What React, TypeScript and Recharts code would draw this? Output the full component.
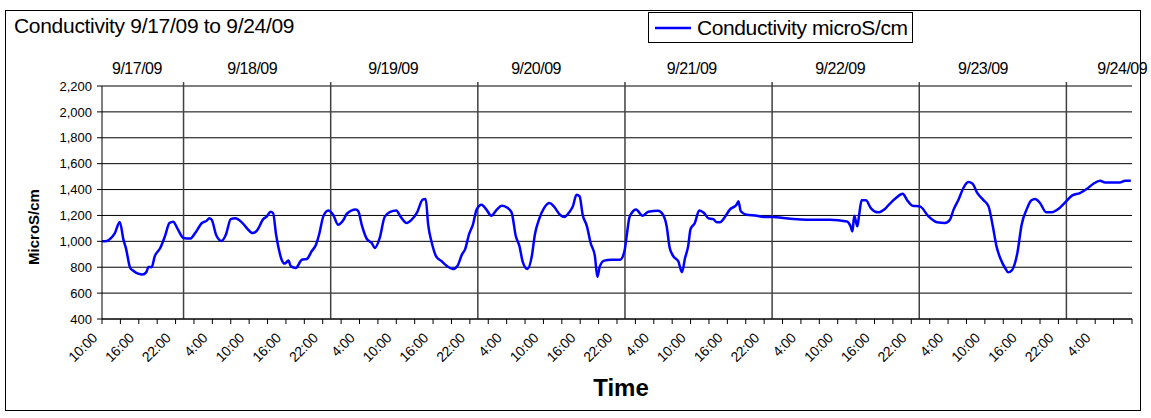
import { LineChart, Line, XAxis, YAxis, CartesianGrid, ReferenceLine, Legend } from "recharts";

// hours elapsed since 9/17/09 10:00
const hours = [
  0, 0.8, 1.3, 2.1, 2.9, 3.5, 3.9, 4.6, 5.1, 5.9, 6.6, 7.2, 7.6, 8.1, 8.6, 9.5, 10.3, 11.0, 11.6, 12.4,
  13.3, 14.4, 15.2, 16.3, 17.1, 17.5, 17.9, 18.6, 19.5, 20.2, 21.0, 21.7, 22.8, 23.6, 24.6, 25.3, 26.3,
  26.9, 27.5, 27.9, 28.4, 28.8, 29.3, 29.8, 30.4, 30.8, 31.6, 32.6, 33.4, 34.2, 34.9, 35.4, 36.1, 36.9,
  37.7, 38.5, 39.4, 39.9, 41.4, 41.8, 42.4, 43.2, 44.0, 44.5, 45.3, 46.1, 47.0, 48.0, 48.6, 49.7, 50.5,
  51.4, 52.3, 52.8, 53.2, 53.8, 54.5, 55.4, 56.2, 57.2, 58.0, 58.7, 59.2, 59.9, 60.5, 61.1, 61.9, 62.7,
  63.5, 64.4, 65.2, 66.0, 66.8, 67.5, 68.1, 68.6, 69.4, 70.1, 70.6, 71.3, 72.1, 73.0, 73.7, 74.6, 75.4,
  76.2, 76.8, 77.4, 77.9, 78.4, 79.1, 79.7, 80.4, 80.8, 81.2, 81.9, 83.1, 84.5, 85.2, 85.6, 86.0, 86.4,
  87.1, 88.2, 89.1, 90.7, 91.5, 92.1, 92.6, 93.2, 94.0, 94.6, 95.1, 95.6, 96.0, 96.7, 97.4, 98.2, 98.9,
  99.7, 100.3, 100.8, 101.6, 102.4, 103.5, 103.8, 104.2, 105.1, 106.8, 107.9, 109.5, 111.1, 112.8,
  114.9, 118.7, 121.5, 122.1, 122.4, 122.7, 123.2, 123.5, 123.9, 124.6, 125.4, 126.6, 127.7, 128.6,
  129.5, 130.6, 131.3, 132.2, 133.4, 134.8, 136.2, 137.5, 138.3, 138.9, 139.7, 140.5, 141.3, 142.0,
  142.7, 143.7, 144.6, 145.3, 145.9, 146.5, 147.3, 147.8, 148.4, 149.3, 150.0, 150.8, 151.6, 152.2,
  153.0, 154.0, 154.9, 156.0, 157.1, 158.2, 159.5, 160.6, 161.7, 162.8, 163.6, 166.0, 166.9, 167.8,
];

const microS = [
  1000, 1003, 1018, 1064, 1150, 1013, 948, 794, 773, 750, 743, 760, 802, 800, 884, 948, 1044, 1142, 1152, 1090,
  1026, 1021, 1064, 1142, 1160, 1178, 1167, 1051, 1003, 1051, 1172, 1178, 1147, 1103, 1064, 1085, 1172,
  1193, 1229, 1219, 1051, 948, 858, 828, 851, 807, 794, 858, 864, 923, 974, 1051, 1193, 1239,
  1206, 1129, 1167, 1211, 1245, 1232, 1121, 1018, 987, 948, 1026, 1188, 1227, 1239, 1198, 1142, 1167,
  1224, 1322, 1327, 1129, 987, 884, 846, 812, 786, 812, 897, 936, 1059, 1129, 1245, 1283, 1245,
  1198, 1245, 1275, 1263, 1224, 1039, 961, 846, 786, 884, 1051, 1172, 1257, 1296, 1270, 1211, 1188,
  1224, 1270, 1360, 1347, 1206, 1116, 987, 884, 725, 807, 851, 858, 858, 920, 1050, 1180, 1219,
  1245, 1198, 1229, 1237, 1206, 1116, 948, 884, 846, 761, 871, 961, 1095, 1142, 1239, 1219, 1178,
  1172, 1147, 1147, 1188, 1245, 1283, 1309, 1232, 1206, 1198, 1188, 1188, 1180, 1172,
  1167, 1167, 1154, 1116, 1077, 1198, 1116, 1206, 1317, 1317, 1257, 1224, 1250, 1296,
  1335, 1368, 1320, 1275, 1270, 1193, 1147, 1142, 1167, 1245, 1322, 1412, 1458, 1445,
  1378, 1322, 1270, 1116, 961, 871, 794, 761, 776, 910, 1129, 1245, 1317, 1327,
  1296, 1224, 1224, 1250, 1301, 1353, 1373, 1404, 1445, 1468, 1455, 1455, 1468, 1468,
];

const dayLabels = ["9/17/09", "9/18/09", "9/19/09", "9/20/09", "9/21/09", "9/22/09", "9/23/09", "9/24/09"];
const dayLabelHours = [5.7, 24.5, 47.5, 70.8, 96.2, 120.4, 143.7, 166.4];
const dayBreakHours = [13.3, 37.3, 61.3, 85.3, 109.3, 133.3, 157.3];
const yTicks = [400, 600, 800, 1000, 1200, 1400, 1600, 1800, 2000, 2200];
const timeTicks = Array.from({ length: 57 }, (_, i) => i * 3);

const data = hours.map((h, i) => ({ h, v: microS[i] }));

const FONT = "'Liberation Sans', Arial, sans-serif";

function TimeTick(props: any) {
  const { x, y, payload } = props;
  const h = payload.value;
  if (h % 6 !== 0 || h > 162) return <g />;
  const label = `${(10 + h) % 24}:00`;
  const ax = x - 4;
  const ay = y + 13;
  return (
    <text
      x={ax}
      y={ay}
      textAnchor="end"
      transform={`rotate(-45 ${ax} ${ay})`}
      fontSize={14}
      fontFamily={FONT}
      letterSpacing={-0.3}
      fill="#000"
    >
      {label}
    </text>
  );
}

function LegendBox() {
  return (
    <div
      style={{
        width: 265,
        height: 31,
        border: "1px solid #000",
        boxSizing: "border-box",
        background: "#fff",
        display: "flex",
        alignItems: "center",
        fontFamily: FONT,
        fontSize: 21,
        color: "#000",
        whiteSpace: "nowrap",
      }}
    >
      <svg width={42} height={10} style={{ marginLeft: 6 }}>
        <line x1={0} y1={5} x2={36} y2={5} stroke="#0000FF" strokeWidth={2.5} />
      </svg>
      <span style={{ letterSpacing: -0.4 }}>Conductivity microS/cm</span>
    </div>
  );
}

export default function App() {
  return (
    <div style={{ position: "absolute", left: 0, top: 0, width: 1151, height: 418, background: "#fff" }}>
      <div
        style={{
          position: "absolute",
          left: 5,
          top: 10,
          width: 1136,
          height: 401,
          border: "1px solid #000",
          boxSizing: "border-box",
        }}
      />
      <div
        style={{
          position: "absolute",
          left: 14,
          top: 14,
          fontFamily: FONT,
          fontSize: 21,
          letterSpacing: -0.3,
          color: "#000",
          whiteSpace: "nowrap",
        }}
      >
        Conductivity 9/17/09 to 9/24/09
      </div>
      <div style={{ position: "absolute", left: 0, top: 0 }}>
        <LineChart width={1151} height={418} data={data} margin={{ top: 66, right: 19, bottom: 49, left: 42 }}>
          <CartesianGrid horizontal vertical={false} stroke="#000" strokeWidth={1} />
          <XAxis
            dataKey="h"
            type="number"
            domain={[0, 168]}
            ticks={timeTicks}
            interval={0}
            height={50}
            tickSize={5}
            tickMargin={2}
            stroke="#000"
            tick={<TimeTick />}
            label={{
              content: () => (
                <text x={621} y={396} textAnchor="middle" fontFamily={FONT} fontSize={24} fontWeight="bold" fill="#000">
                  Time
                </text>
              ),
            }}
          />
          <XAxis
            xAxisId="top"
            orientation="top"
            type="number"
            dataKey="h"
            domain={[0, 168]}
            ticks={dayLabelHours}
            interval={0}
            height={20}
            axisLine={false}
            tickLine={false}
            tickSize={0}
            tickMargin={12}
            tickFormatter={(v: number) => dayLabels[dayLabelHours.indexOf(v)]}
            tick={{ fontSize: 16, fontFamily: FONT, fill: "#000", letterSpacing: -0.5 }}
          />
          <YAxis
            type="number"
            domain={[400, 2200]}
            ticks={yTicks}
            interval={0}
            width={60}
            tickSize={5}
            tickMargin={5}
            stroke="#000"
            tick={{ fontSize: 13, fontFamily: FONT, fill: "#000" }}
            tickFormatter={(v: number) => v.toLocaleString("en-US")}
            label={{
              content: () => (
                <text
                  x={39}
                  y={227}
                  textAnchor="middle"
                  transform="rotate(-90 39 227)"
                  fontFamily={FONT}
                  fontSize={15}
                  fontWeight="bold"
                  fill="#000"
                >
                  MicroS/cm
                </text>
              ),
            }}
          />
          {dayBreakHours.map((h) => (
            <ReferenceLine
              key={h}
              segment={[
                { x: h, y: 400 },
                { x: h, y: 2230 },
              ]}
              ifOverflow="visible"
              stroke="#404040"
              strokeWidth={1.5}
            />
          ))}
          <Legend
            layout="horizontal"
            verticalAlign="middle"
            align="center"
            wrapperStyle={{ position: "absolute", left: 648, top: 12, width: 265, height: 31 }}
            content={() => <LegendBox />}
          />
          <Line
            type="monotone"
            dataKey="v"
            name="Conductivity microS/cm"
            stroke="#0000FF"
            strokeWidth={2.5}
            dot={false}
            isAnimationActive={false}
          />
        </LineChart>
      </div>
    </div>
  );
}
